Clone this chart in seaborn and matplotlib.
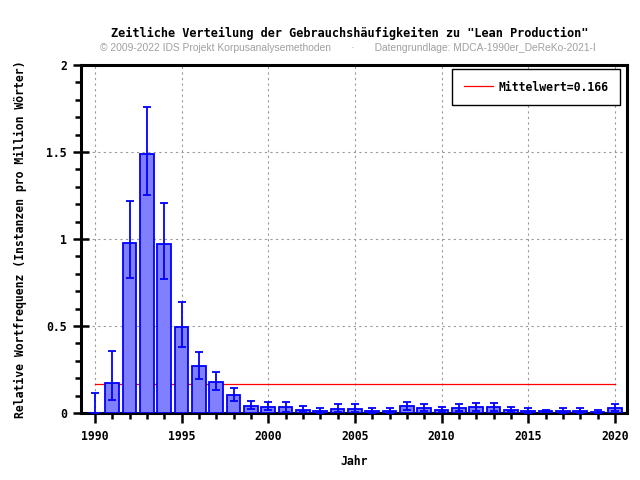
import numpy as np
import pandas as pd
import matplotlib
matplotlib.use("Agg")
import matplotlib.pyplot as plt
import seaborn as sns
from matplotlib.ticker import MultipleLocator

years = list(range(1990, 2021))
freq = [0.0, 0.171, 0.975, 1.49, 0.969, 0.496, 0.268, 0.180, 0.102, 0.042, 0.036,
        0.033, 0.017, 0.010, 0.021, 0.021, 0.010, 0.010, 0.038, 0.029, 0.015,
        0.027, 0.033, 0.033, 0.015, 0.010, 0.013, 0.010, 0.010, 0.006, 0.027]
upper = [0.113, 0.358, 1.22, 1.76, 1.209, 0.640, 0.352, 0.238, 0.146, 0.071, 0.061,
         0.061, 0.038, 0.030, 0.050, 0.050, 0.030, 0.030, 0.061, 0.050, 0.035,
         0.050, 0.057, 0.057, 0.035, 0.030, 0.020, 0.030, 0.030, 0.015, 0.050]
lower = [0.0, 0.075, 0.778, 1.253, 0.772, 0.381, 0.197, 0.132, 0.071, 0.023, 0.017,
         0.008, 0.004, 0.002, 0.006, 0.006, 0.002, 0.002, 0.017, 0.010, 0.003,
         0.009, 0.013, 0.013, 0.003, 0.002, 0.006, 0.002, 0.002, 0.001, 0.009]
mittelwert = 0.166

df = pd.DataFrame({"Jahr": years, "freq": freq, "upper": upper, "lower": lower})

mono = "DejaVu Sans Mono"
fs = 8.3
fig = plt.figure(figsize=(6.4, 4.8), dpi=100)
ax = fig.add_axes([81 / 640, 67 / 480, 546 / 640, 348 / 480])

sns.barplot(data=df, x="Jahr", y="freq", native_scale=True, width=0.8,
            color="#8080ff", edgecolor="#0000ff", linewidth=1.3, saturation=1,
            errorbar=None, ax=ax, zorder=3)
ax.errorbar(df["Jahr"], df["freq"],
            yerr=[df["freq"] - df["lower"], df["upper"] - df["freq"]],
            fmt="none", ecolor="#0000ff", elinewidth=1.3, capsize=2.6, capthick=1.3,
            zorder=4)
ax.plot([1990, 2020], [mittelwert, mittelwert], color="red", lw=0.9,
        label=f"Mittelwert={mittelwert}", zorder=2)

ax.set_xlim(1989.2, 2020.7)
ax.set_ylim(0, 2)
ax.xaxis.set_major_locator(MultipleLocator(5))
ax.xaxis.set_minor_locator(MultipleLocator(1))
ax.yaxis.set_minor_locator(MultipleLocator(0.1))
ax.set_yticks([0, 0.5, 1, 1.5, 2])
ax.set_yticklabels(["0", "0.5", "1", "1.5", "2"])
ax.grid(True, which="major", linestyle=(0, (2, 3)), color="#999999", lw=0.8, zorder=0)
ax.set_axisbelow(True)

for s in ax.spines.values():
    s.set_linewidth(2.2)
    s.set_color("black")
ax.tick_params(axis="x", which="major", direction="out", length=7, width=1.8,
               labelsize=fs, pad=5)
ax.tick_params(axis="x", which="minor", direction="out", length=4, width=1.8)
ax.tick_params(axis="y", which="major", direction="inout", length=12, width=1.8,
               labelsize=fs, pad=4)
ax.tick_params(axis="y", which="minor", direction="out", length=4, width=1.8)
for lab in ax.get_xticklabels() + ax.get_yticklabels():
    lab.set_fontfamily(mono)
    lab.set_fontweight("bold")

ax.set_xlabel("Jahr", fontfamily=mono, fontweight="bold", fontsize=fs, labelpad=9)
ax.set_ylabel("Relative Wortfrequenz (Instanzen pro Million Wörter)", fontfamily=mono,
              fontweight="bold", fontsize=fs, labelpad=14)

leg = ax.legend(loc="upper right", fancybox=False, framealpha=1, edgecolor="black",
                prop={"family": mono, "weight": "bold", "size": fs},
                borderpad=1.0, handlelength=2.5, handletextpad=0.5,
                borderaxespad=0, bbox_to_anchor=(0.987, 0.9885))
leg.get_frame().set_linewidth(1.0)

fig.text(0.547, 0.922, 'Zeitliche Verteilung der Gebrauchshäufigkeiten zu "Lean Production"',
         ha="center", fontfamily=mono, fontweight="bold", fontsize=8.6)
fig.text(0.543, 0.893, "© 2009-2022 IDS Projekt Korpusanalysemethoden       ·       "
         "Datengrundlage: MDCA-1990er_DeReKo-2021-I",
         ha="center", fontfamily="Liberation Sans", fontsize=7.4, color="#a0a0a0")

fig.savefig("out.png", dpi=100)
